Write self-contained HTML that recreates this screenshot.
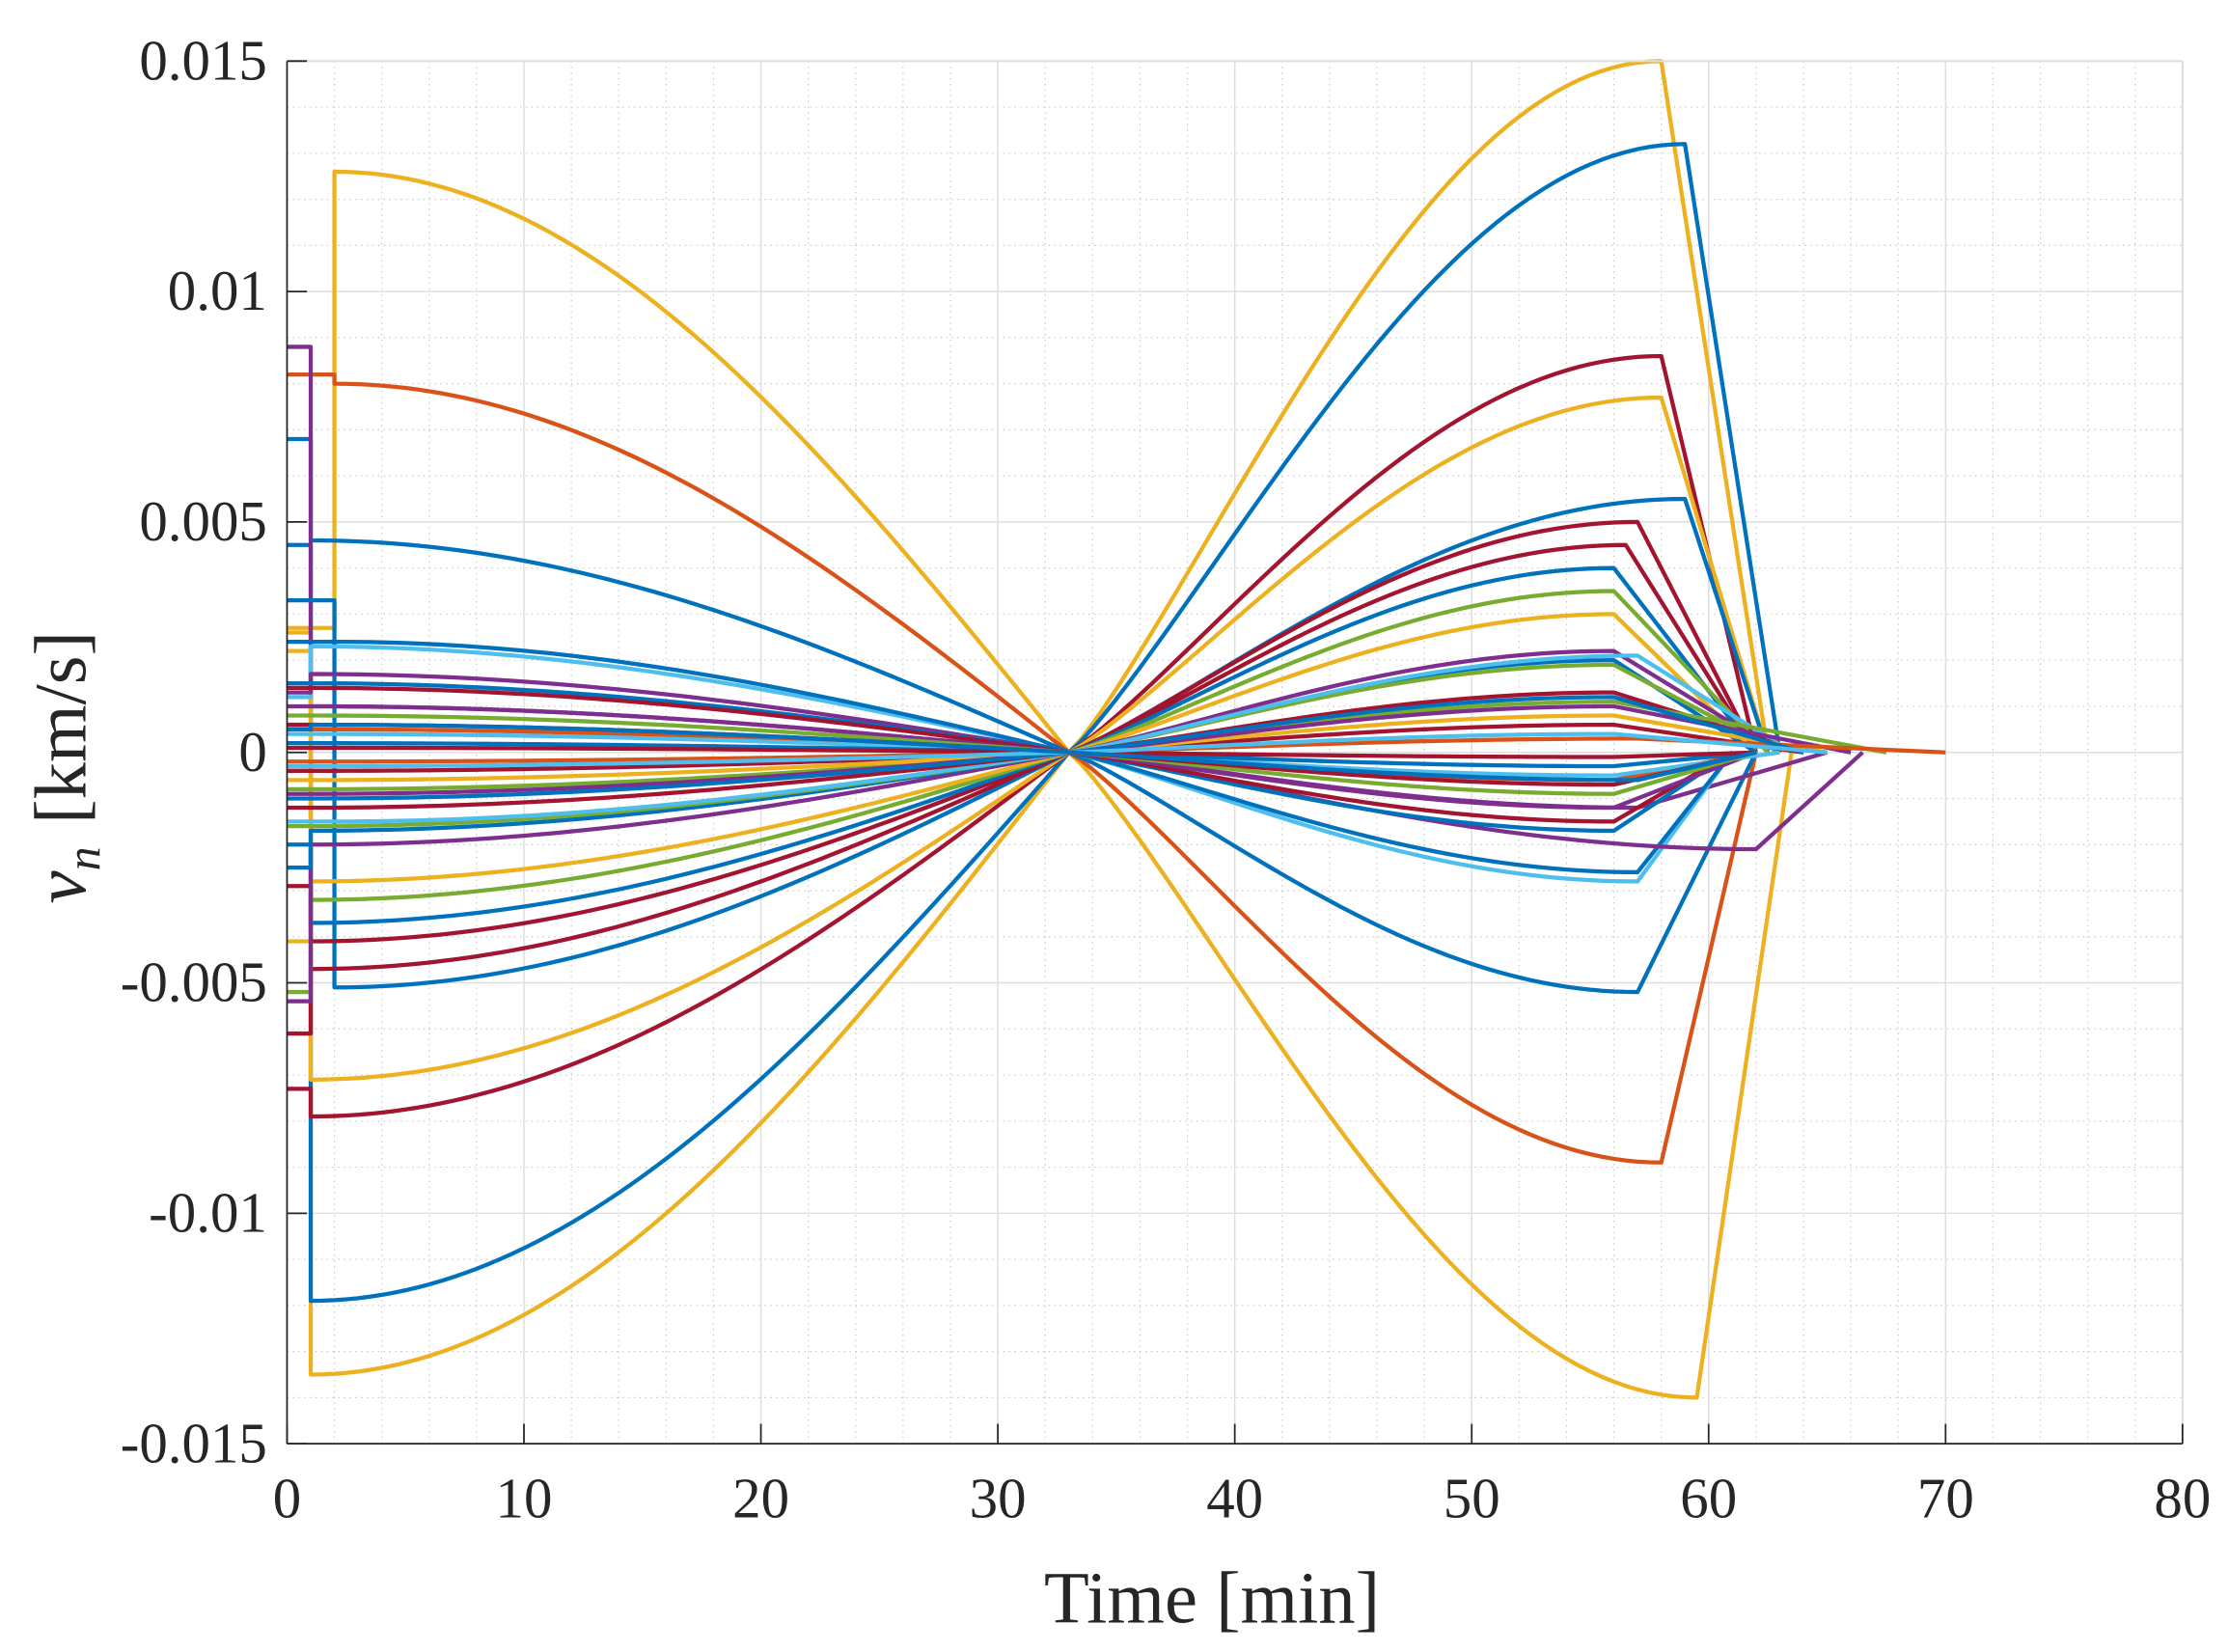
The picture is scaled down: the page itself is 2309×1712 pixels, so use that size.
<!DOCTYPE html>
<html><head><meta charset="utf-8"><style>
html,body{margin:0;padding:0;background:#fff;}
svg{display:block;}
text{font-family:"Liberation Serif",serif;fill:#262626;}
</style></head><body>
<svg id="chart" width="2309" height="1712" viewBox="0 0 1568 1162.6" xmlns="http://www.w3.org/2000/svg">
<rect x="0" y="0" width="1568" height="1162.6" fill="#fff"/>
<g id="grid"></g>
<g id="series"></g>
<g id="axes"></g>
<text x="853" y="1142" font-size="52" text-anchor="middle">Time [min]</text>
<text transform="translate(60,540) rotate(-90)" font-size="52" text-anchor="middle"><tspan font-style="italic">v</tspan><tspan font-style="italic" font-size="34" dy="10">n</tspan><tspan dy="-10" dx="16">[km/s]</tspan></text>
</svg>
<script>
const xTicks=[0,10,20,30,40,50,60,70,80];
const yTicks=[-0.015,-0.01,-0.005,0,0.005,0.01,0.015];
const yTickLabels=["-0.015","-0.01","-0.005","0","0.005","0.01","0.015"];
const palette=["#0072BD","#D95319","#EDB120","#7E2F8E","#77AC30","#4DBEEE","#A2142F"];
const colorIdx=[2,2,0,1,0,3,6,2,0,6,6,0,4,2,5,0,3,0,3,0,4,5,6,3,6,1,4,5,6,0,2,3,1,6,4,0,6,5,0];
const preVals=[0.0027,0.0026,0.0045,0.0082,0.0068,0.0088,-0.0073,-0.0041,0.0033,-0.0061,-0.0029,-0.0020,-0.0052,0.0022,0.0012,0.0024,0.0013,0.0015,-0.0054,-0.0025,-0.0016,-0.0015,0.0014,0.0010,-0.0012,0.0005,-0.0008,0.0004,-0.0004,0.0002,-0.0006,-0.0009,-0.0002,0.0001,0.0008,-0.0010,0.0006,-0.0003,0.0005];
const stepTimes=[2,1,1,2,1,1,1,1,2,1,1,1,1,1,1,2,1,1,1,1,1,2,1,1,1,1,1,1,1,1,1,1,1,1,1,1,1,1,1];
const startVals=[0.0126,-0.0135,-0.0119,0.0080,0.0046,0.0010,-0.0079,-0.0071,-0.0051,-0.0047,-0.0041,-0.0037,-0.0032,-0.0028,0.0023,0.0024,0.0017,0.0015,-0.0020,-0.0017,-0.0016,-0.0015,0.0014,0.0010,-0.0012,0.0005,-0.0008,0.0004,-0.0004,0.0002,-0.0006,-0.0009,-0.0002,0.0001,0.0008,-0.0010,0.0006,-0.0003,0.0006];
const peakTimes=[59.5,58,59,58,57,57,58,58,59,57,56.5,56,56,56,57,57,62,56,56,56,56,57,56,56,56,56,56,56,56,56,56,56,57,56,56,56,56,56,57];
const peakVals=[-0.0140,0.0150,0.0132,-0.0089,-0.0052,-0.0012,0.0086,0.0077,0.0055,0.0050,0.0045,0.0040,0.0035,0.0030,-0.0028,-0.0026,-0.0021,-0.0017,0.0022,0.0020,0.0019,0.0021,-0.0015,-0.0012,0.0013,-0.0006,0.0011,-0.0005,0.0006,-0.0003,0.0008,0.0010,0.0003,-0.0001,-0.0009,0.0012,-0.0007,0.0004,-0.0006];
const endTimes=[63.5,62.5,63,62,62,65,62,62.5,62.5,62,62,62,62.5,62,61,61,66.5,61,63,62,63,63.5,61,62,64,62,67.5,63,64,62,65,66,70,62,62,64,62,65,62];

const NS="http://www.w3.org/2000/svg";
const L=202,R=1536,T=43,B=1016;
const X0=0,X1=80,Y0=-0.015,Y1=0.015,TC=33;
function xs(t){return L+(t-X0)/(X1-X0)*(R-L);}
function ys(v){return B-(v-Y0)/(Y1-Y0)*(B-T);}
function mk(tag,attrs,parent){const e=document.createElementNS(NS,tag);for(const k in attrs)e.setAttribute(k,attrs[k]);parent.appendChild(e);return e;}

const grid=document.getElementById('grid');
for(let t=2;t<80;t+=2){if(t%10===0)continue;
 const l=mk('line',{x1:xs(t),x2:xs(t),y1:T,y2:B,stroke:'#c8c8c8','stroke-width':0.8,'stroke-dasharray':'1,3'},grid);
 
 }
for(let i=-14;i<15;i++){if(i%5===0)continue;const v=i*0.001;
 const l=mk('line',{x1:L,x2:R,y1:ys(v),y2:ys(v),stroke:'#c8c8c8','stroke-width':0.8,'stroke-dasharray':'1,3'},grid);
 
 }
xTicks.forEach(t=>{const l=mk('line',{x1:xs(t),x2:xs(t),y1:T,y2:B,stroke:'#dedede','stroke-width':1},grid);
 
 });
yTicks.forEach(v=>{const l=mk('line',{x1:L,x2:R,y1:ys(v),y2:ys(v),stroke:'#dedede','stroke-width':1},grid);
 
 });

function shape(i,t){
 const tS=stepTimes[i],tP=peakTimes[i],tE=endTimes[i];
 if(t<=TC){const u=(t-tS)/(TC-tS);return startVals[i]*Math.cos(Math.PI/2*u);}
 if(t<=tP){const u=(t-TC)/(tP-TC);return peakVals[i]*Math.pow(Math.sin(Math.PI/2*u),1.15);}
 return peakVals[i]*(1-(t-tP)/(tE-tP));
}
const sg=document.getElementById('series');
for(let i=0;i<startVals.length;i++){
 let d='M'+xs(0).toFixed(2)+','+ys(preVals[i]).toFixed(2)+'L'+xs(stepTimes[i]).toFixed(2)+','+ys(preVals[i]).toFixed(2);
 const pts=[];
 for(let t=stepTimes[i];t<TC;t+=0.5)pts.push(t);
 for(let t=TC;t<peakTimes[i];t+=0.5)pts.push(t);
 pts.push(peakTimes[i]);pts.push(endTimes[i]);
 pts.forEach(t=>{d+='L'+xs(t).toFixed(2)+','+ys(shape(i,t)).toFixed(2);});
 const p=mk('path',{d:d,fill:'none',stroke:palette[colorIdx[i]],'stroke-width':2.9,'stroke-linejoin':'round'},sg);
 
 
}

const ax=document.getElementById('axes');
mk('line',{x1:L,x2:R,y1:T,y2:T,stroke:'#dedede','stroke-width':1.4},ax);
mk('line',{x1:R,x2:R,y1:T,y2:B,stroke:'#dedede','stroke-width':1.4},ax);
const yl=mk('line',{x1:L,x2:L,y1:T,y2:B,stroke:'#262626','stroke-width':1.2},ax);


const xl=mk('line',{x1:L,x2:R,y1:B,y2:B,stroke:'#262626','stroke-width':1.2},ax);


xTicks.forEach(t=>{
 mk('line',{x1:xs(t),x2:xs(t),y1:B,y2:B-14,stroke:'#262626','stroke-width':1.2},ax);
 const tx=mk('text',{x:xs(t),y:1068,'font-size':40,'text-anchor':'middle'},ax);
 tx.textContent=String(t);
 
 
});
yTicks.forEach((v,k)=>{
 mk('line',{x1:L,x2:L+14,y1:ys(v),y2:ys(v),stroke:'#262626','stroke-width':1.2},ax);
 const tx=mk('text',{x:188,y:ys(v)+13,'font-size':40,'text-anchor':'end'},ax);
 tx.textContent=yTickLabels[k];
 
 
});
</script>
</body></html>
